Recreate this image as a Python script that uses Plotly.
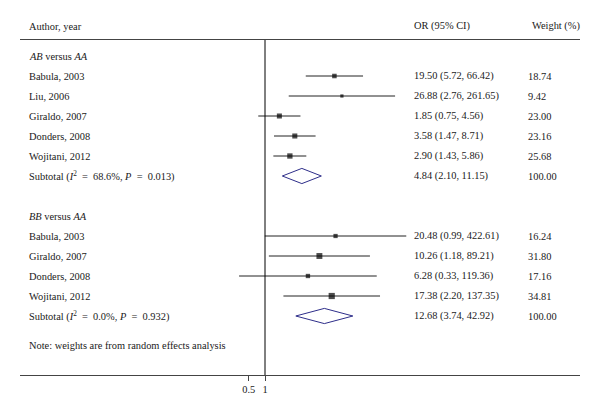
import math
import plotly.graph_objects as go

# ---- data ----
ab_studies = ["Babula, 2003", "Liu, 2006", "Giraldo, 2007", "Donders, 2008", "Wojitani, 2012"]
ab_or = [19.50, 26.88, 1.85, 3.58, 2.90]
ab_lo = [5.72, 2.76, 0.75, 1.47, 1.43]
ab_hi = [66.42, 261.65, 4.56, 8.71, 5.86]
ab_w = [18.74, 9.42, 23.00, 23.16, 25.68]
ab_sub = [4.84, 2.10, 11.15]
ab_sub_w = 100.00
ab_sub_label = "Subtotal (<i>I</i><sup>2</sup>  =  68.6%, <i>P</i>  =  0.013)"

bb_studies = ["Babula, 2003", "Giraldo, 2007", "Donders, 2008", "Wojitani, 2012"]
bb_or = [20.48, 10.26, 6.28, 17.38]
bb_lo = [0.99, 1.18, 0.33, 2.20]
bb_hi = [422.61, 89.21, 119.36, 137.35]
bb_w = [16.24, 31.80, 17.16, 34.81]
bb_sub = [12.68, 3.74, 42.92]
bb_sub_w = 100.00
bb_sub_label = "Subtotal (<i>I</i><sup>2</sup>  =  0.0%, <i>P</i>  =  0.932)"

tick_vals = [0.5, 1]
tick_text = ["0.5", "1"]

FONT = "Liberation Serif, Times New Roman, serif"
TXT = "#1a1a1a"
FS = 10.4

fig = go.Figure()

X_LABEL = 7 / 560
X_OR = 392 / 560
X_W = 506 / 560

def add_group(studies, ors, los, his, ws, sub, sub_w, sub_label, heading, r0):
    rows = [r0 + 1 + i for i in range(len(studies))]
    xs, ys = [], []
    for lo, hi, r in zip(los, his, rows):
        xs += [lo, hi, None]
        ys += [r, r, None]
    fig.add_trace(go.Scatter(x=xs, y=ys, mode="lines",
                             line=dict(color="#222222", width=1), hoverinfo="skip"))
    fig.add_trace(go.Scatter(x=ors, y=rows, mode="markers",
                             marker=dict(symbol="square", color="black",
                                         size=[math.sqrt(w) * 1.05 for w in ws],
                                         line=dict(width=0))))
    rs = rows[-1] + 1
    est, lo, hi = sub
    fig.add_trace(go.Scatter(x=[lo, est, hi, est, lo], y=[rs, rs - 0.38, rs, rs + 0.38, rs],
                             mode="lines", line=dict(color="#2e2e8a", width=1)))
    fig.add_annotation(x=X_LABEL, xref="paper", y=r0, yref="y", text=heading,
                       showarrow=False, xanchor="left")
    for s, o, lo_, hi_, w, r in zip(studies, ors, los, his, ws, rows):
        fig.add_annotation(x=X_LABEL, xref="paper", y=r, yref="y", text=s,
                           showarrow=False, xanchor="left")
        fig.add_annotation(x=X_OR, xref="paper", y=r, yref="y",
                           text=f"{o:.2f} ({lo_:.2f}, {hi_:.2f})", showarrow=False, xanchor="left")
        fig.add_annotation(x=X_W, xref="paper", y=r, yref="y", text=f"{w:.2f}",
                           showarrow=False, xanchor="left")
    fig.add_annotation(x=X_LABEL, xref="paper", y=rs, yref="y", text=sub_label,
                       showarrow=False, xanchor="left")
    fig.add_annotation(x=X_OR, xref="paper", y=rs, yref="y",
                       text=f"{est:.2f} ({lo:.2f}, {hi:.2f})", showarrow=False, xanchor="left")
    fig.add_annotation(x=X_W, xref="paper", y=rs, yref="y", text=f"{sub_w:.2f}",
                       showarrow=False, xanchor="left")
    return rs

end_ab = add_group(ab_studies, ab_or, ab_lo, ab_hi, ab_w, ab_sub, ab_sub_w, ab_sub_label,
                   "<i>AB</i> versus <i>AA</i>", 0)
end_bb = add_group(bb_studies, bb_or, bb_lo, bb_hi, bb_w, bb_sub, bb_sub_w, bb_sub_label,
                   "<i>BB</i> versus <i>AA</i>", end_ab + 2)

fig.add_annotation(x=X_LABEL, xref="paper", y=end_bb + 1.45, yref="y",
                   text="Note: weights are from random effects analysis",
                   showarrow=False, xanchor="left")

# headers (above the plot area)
HY = 1 + 14 / 335
fig.add_annotation(x=X_LABEL, xref="paper", y=HY, yref="paper", text="Author, year",
                   showarrow=False, xanchor="left", yanchor="middle")
fig.add_annotation(x=X_OR, xref="paper", y=HY, yref="paper", text="OR (95% CI)",
                   showarrow=False, xanchor="left", yanchor="middle")
fig.add_annotation(x=510 / 560, xref="paper", y=HY, yref="paper", text="Weight (%)",
                   showarrow=False, xanchor="left", yanchor="middle")

fig.add_shape(type="line", x0=1, x1=1, xref="x", y0=0, y1=1, yref="paper",
              line=dict(color="black", width=1))

fig.update_layout(
    width=592, height=410,
    margin=dict(l=12, r=20, t=32, b=43),
    paper_bgcolor="white", plot_bgcolor="white",
    showlegend=False,
    font=dict(family=FONT, size=FS, color=TXT),
    xaxis=dict(type="log", range=[-4.554, 5.855], showgrid=False, zeroline=False,
               showline=True, mirror=True, linecolor="#444444", linewidth=1,
               ticks="outside", ticklen=5, tickcolor="#444444",
               tickvals=tick_vals, ticktext=tick_text,
               tickfont=dict(family=FONT, size=FS, color=TXT)),
    yaxis=dict(range=[15.95, -0.8], visible=False, showgrid=False, zeroline=False),
)

fig.write_html("out.html")
